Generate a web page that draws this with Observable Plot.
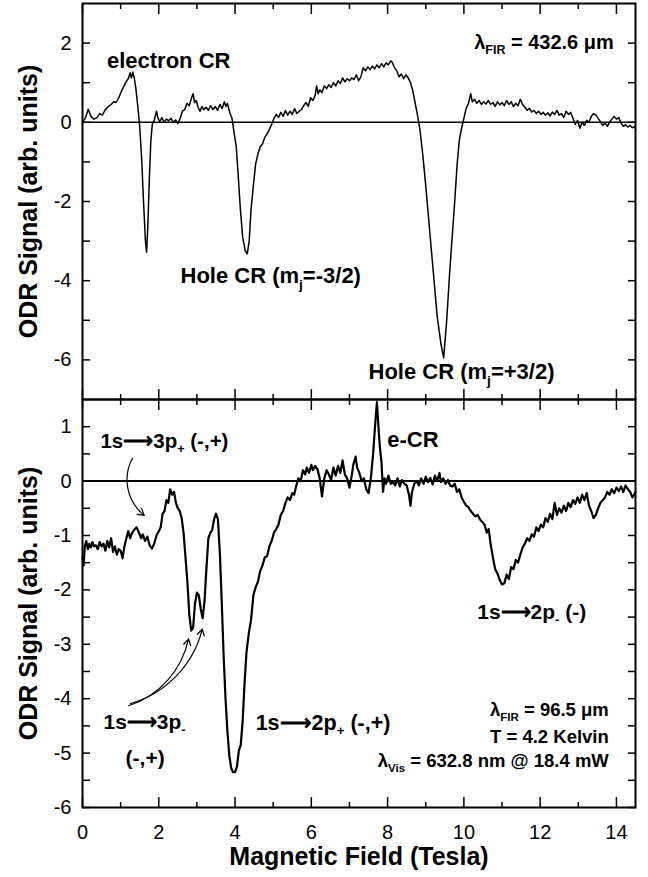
<!DOCTYPE html>
<html>
<head>
<meta charset="utf-8">
<script src="https://cdn.jsdelivr.net/npm/d3@7"></script>
<script src="https://cdn.jsdelivr.net/npm/@observablehq/plot@0.6"></script>
<style>
html,body{margin:0;padding:0;background:#fff;}
#chart{position:relative;width:648px;height:877px;overflow:hidden;background:#fff;}
#chart svg{position:absolute;left:0;overflow:visible;background:transparent;}
</style>
</head>
<body>
<div id="chart"></div>
<script>
// ---------- data ----------
const topField = [0.00,0.08,0.15,0.22,0.30,0.38,0.45,0.52,0.60,0.68,0.75,0.82,0.88,0.95,1.02,1.08,1.14,1.20,1.25,1.28,1.32,1.36,1.40,1.45,1.50,1.55,1.60,1.65,1.68,1.71,1.75,1.79,1.83,1.88,1.94,1.98,2.03,2.08,2.14,2.20,2.26,2.32,2.38,2.44,2.50,2.56,2.62,2.68,2.74,2.80,2.86,2.90,2.94,2.98,3.03,3.08,3.13,3.18,3.24,3.30,3.36,3.42,3.48,3.54,3.60,3.66,3.72,3.76,3.80,3.86,3.92,3.98,4.03,4.08,4.14,4.20,4.27,4.32,4.37,4.42,4.48,4.54,4.60,4.66,4.72,4.78,4.84,4.90,4.96,5.02,5.08,5.14,5.20,5.26,5.32,5.38,5.44,5.50,5.56,5.62,5.68,5.74,5.80,5.86,5.92,5.98,6.04,6.10,6.14,6.18,6.22,6.28,6.34,6.40,6.46,6.52,6.58,6.64,6.70,6.76,6.82,6.88,6.94,7.00,7.06,7.12,7.18,7.24,7.30,7.36,7.42,7.48,7.54,7.60,7.66,7.72,7.78,7.84,7.90,7.96,8.02,8.08,8.12,8.18,8.24,8.30,8.36,8.42,8.48,8.54,8.60,8.66,8.72,8.78,8.85,8.92,9.00,9.10,9.20,9.30,9.40,9.47,9.55,9.62,9.70,9.76,9.82,9.88,9.94,10.00,10.06,10.12,10.18,10.22,10.28,10.34,10.40,10.46,10.52,10.58,10.64,10.70,10.76,10.82,10.88,10.94,11.00,11.06,11.12,11.18,11.24,11.30,11.36,11.42,11.48,11.54,11.60,11.66,11.72,11.78,11.84,11.90,11.96,12.02,12.08,12.14,12.20,12.26,12.32,12.38,12.44,12.50,12.56,12.62,12.68,12.74,12.80,12.86,12.92,12.98,13.04,13.10,13.16,13.22,13.28,13.34,13.40,13.46,13.52,13.58,13.64,13.70,13.76,13.82,13.88,13.94,14.00,14.06,14.12,14.18,14.24,14.30,14.36,14.42,14.50];
const topSignal = [0.00,0.12,0.33,0.15,0.08,0.12,0.22,0.18,0.32,0.40,0.45,0.52,0.50,0.62,0.78,0.90,1.02,1.10,1.25,1.12,1.27,1.10,0.85,0.40,-0.10,-0.90,-2.00,-3.00,-3.28,-2.70,-1.50,-0.50,-0.05,0.05,0.28,0.10,0.02,0.12,0.00,0.08,0.04,0.10,0.00,0.06,-0.03,0.10,0.28,0.32,0.48,0.42,0.62,0.72,0.50,0.55,0.38,0.28,0.40,0.32,0.38,0.30,0.42,0.32,0.40,0.30,0.45,0.35,0.52,0.40,0.48,0.25,0.10,-0.30,-0.60,-1.30,-2.20,-2.90,-3.25,-3.32,-3.00,-2.20,-1.60,-1.05,-0.80,-0.62,-0.55,-0.38,-0.30,-0.18,-0.05,0.10,0.20,0.12,0.25,0.15,0.30,0.18,0.28,0.20,0.35,0.22,0.28,0.32,0.42,0.50,0.40,0.62,0.55,0.68,0.92,0.72,0.82,0.75,0.92,0.85,0.95,0.88,1.00,0.92,1.05,0.98,1.12,1.02,1.10,1.05,1.12,1.08,1.20,1.05,1.15,1.38,1.30,1.40,1.33,1.42,1.35,1.45,1.38,1.48,1.40,1.50,1.45,1.55,1.52,1.38,1.30,1.15,1.22,1.10,1.20,1.12,1.00,0.80,0.50,0.20,-0.20,-0.80,-1.60,-2.70,-3.80,-4.90,-5.60,-5.95,-5.00,-3.90,-2.80,-2.00,-1.10,-0.45,-0.15,0.10,0.35,0.48,0.72,0.52,0.58,0.48,0.55,0.45,0.52,0.46,0.55,0.45,0.50,0.40,0.52,0.44,0.50,0.42,0.55,0.45,0.52,0.40,0.48,0.42,0.58,0.45,0.38,0.30,0.35,0.26,0.30,0.22,0.28,0.20,0.25,0.18,0.24,0.16,0.26,0.20,0.30,0.18,0.22,0.12,0.28,0.20,0.25,0.10,-0.05,0.05,-0.15,0.00,-0.08,0.05,0.00,0.15,0.22,0.18,0.10,0.02,-0.08,-0.02,-0.10,0.00,0.08,0.15,0.08,0.12,-0.02,-0.10,-0.06,-0.12,-0.08,-0.14,-0.10];

const bottomField = [0.00,0.03,0.06,0.10,0.14,0.18,0.22,0.26,0.30,0.35,0.40,0.45,0.50,0.55,0.60,0.65,0.70,0.75,0.80,0.85,0.90,0.95,1.00,1.05,1.10,1.15,1.20,1.25,1.30,1.35,1.42,1.48,1.54,1.58,1.64,1.70,1.76,1.82,1.88,1.94,2.00,2.05,2.10,2.15,2.20,2.25,2.30,2.35,2.40,2.45,2.50,2.55,2.60,2.65,2.70,2.75,2.80,2.85,2.90,2.95,3.00,3.05,3.10,3.15,3.20,3.25,3.30,3.35,3.40,3.45,3.50,3.55,3.60,3.65,3.70,3.75,3.80,3.85,3.90,3.95,4.00,4.05,4.10,4.15,4.20,4.25,4.30,4.36,4.42,4.48,4.54,4.60,4.66,4.72,4.78,4.84,4.90,4.96,5.02,5.08,5.14,5.20,5.26,5.32,5.38,5.44,5.50,5.55,5.60,5.66,5.72,5.78,5.84,5.88,5.94,6.00,6.04,6.10,6.16,6.22,6.28,6.34,6.40,6.46,6.52,6.58,6.64,6.70,6.76,6.82,6.88,6.94,7.00,7.06,7.10,7.16,7.20,7.26,7.32,7.38,7.44,7.50,7.56,7.62,7.68,7.72,7.76,7.80,7.84,7.88,7.92,7.96,8.02,8.08,8.14,8.20,8.26,8.32,8.38,8.44,8.50,8.56,8.60,8.64,8.70,8.76,8.82,8.88,8.94,9.00,9.06,9.12,9.18,9.24,9.30,9.36,9.40,9.46,9.52,9.58,9.64,9.70,9.76,9.82,9.88,9.94,10.00,10.06,10.12,10.18,10.24,10.30,10.36,10.42,10.48,10.54,10.60,10.65,10.70,10.76,10.82,10.88,10.94,11.00,11.06,11.12,11.18,11.24,11.30,11.36,11.42,11.48,11.54,11.60,11.66,11.72,11.78,11.84,11.90,11.96,12.02,12.08,12.14,12.20,12.26,12.32,12.38,12.44,12.50,12.56,12.62,12.68,12.74,12.80,12.86,12.92,12.98,13.04,13.10,13.16,13.22,13.28,13.34,13.40,13.46,13.52,13.58,13.64,13.70,13.76,13.82,13.88,13.94,14.00,14.06,14.12,14.18,14.24,14.30,14.36,14.42,14.50];
const bottomSignal = [-1.40,-1.55,-1.20,-1.10,-1.25,-1.15,-1.22,-1.12,-1.20,-1.18,-1.25,-1.12,-1.20,-1.15,-1.28,-1.10,-1.22,-1.05,-1.30,-1.20,-1.35,-1.25,-1.28,-1.42,-1.20,-1.05,-0.92,-1.05,-0.95,-0.90,-0.85,-0.95,-1.05,-0.98,-1.10,-1.02,-1.18,-1.24,-1.15,-1.00,-0.92,-0.85,-0.60,-0.55,-0.35,-0.40,-0.15,-0.25,-0.20,-0.40,-0.50,-0.55,-0.68,-0.95,-1.40,-1.85,-2.45,-2.75,-2.70,-2.25,-2.05,-2.10,-2.35,-2.52,-2.20,-1.60,-1.05,-0.95,-0.90,-0.70,-0.60,-0.70,-1.30,-2.20,-3.20,-4.00,-4.60,-5.05,-5.28,-5.35,-5.35,-5.25,-4.95,-4.85,-4.40,-3.70,-3.15,-2.80,-2.55,-2.10,-1.95,-1.85,-1.65,-1.55,-1.40,-1.38,-1.20,-1.10,-0.95,-0.88,-0.80,-0.62,-0.55,-0.40,-0.30,-0.35,-0.22,-0.25,-0.10,0.05,0.00,0.20,0.12,0.25,0.15,0.30,0.20,0.28,0.22,0.05,-0.28,0.05,0.20,0.12,0.02,0.25,0.10,0.28,0.15,0.38,0.12,0.05,-0.12,0.10,0.30,0.45,0.25,0.15,0.00,0.05,-0.15,-0.22,0.05,0.50,1.10,1.45,1.00,0.60,0.35,-0.20,0.05,-0.05,0.10,-0.05,-0.02,-0.08,0.05,-0.10,0.02,-0.05,-0.08,-0.25,-0.45,-0.20,-0.05,0.00,-0.08,0.05,-0.05,0.08,-0.02,0.06,-0.06,0.10,0.00,0.15,-0.02,0.05,-0.05,0.02,-0.08,-0.10,-0.05,-0.20,-0.15,-0.30,-0.38,-0.45,-0.48,-0.55,-0.60,-0.65,-0.62,-0.70,-0.75,-0.80,-0.95,-0.88,-1.15,-1.40,-1.62,-1.70,-1.82,-1.90,-1.88,-1.72,-1.80,-1.58,-1.62,-1.45,-1.50,-1.35,-1.22,-1.15,-1.05,-1.10,-0.98,-1.02,-0.85,-0.92,-0.80,-0.85,-0.68,-0.75,-0.60,-0.70,-0.40,-0.62,-0.50,-0.58,-0.45,-0.55,-0.40,-0.48,-0.35,-0.42,-0.30,-0.40,-0.25,-0.35,-0.22,-0.45,-0.55,-0.68,-0.62,-0.50,-0.40,-0.35,-0.30,-0.20,-0.25,-0.15,-0.22,-0.12,-0.18,-0.10,-0.20,-0.08,-0.15,-0.20,-0.30,-0.20];

// axes / ticks
const xDomain = [0, 14.5];
const xTickLabels = [0, 2, 4, 6, 8, 10, 12, 14];
const xMinorTicks = [1, 3, 5, 7, 9, 11, 13];
const topYDomain = [-7, 3];
const topYTickMarks = [-6, -5, -4, -3, -2, -1, 0, 1, 2];
const topYTickLabels = [-6, -4, -2, 0, 2];
const bottomYDomain = [-6, 1.5];
const bottomYTickMarks = [-6, -5.5, -5, -4.5, -4, -3.5, -3, -2.5, -2, -1.5, -1, -0.5, 0, 0.5, 1];
const bottomYTickLabels = [-6, -5, -4, -3, -2, -1, 0, 1];
const yTitle = "ODR Signal (arb. units)";
const xTitle = "Magnetic Field (Tesla)";

// annotations (text with _{..} for subscripts)
const topNotes = [
  {text: "electron CR", field: 2.26, signal: 1.56, anchor: "middle", size: 22},
  {text: "λ_{FIR} = 432.6 μm", field: 13.93, signal: 2.01, anchor: "end", size: 20},
  {text: "Hole CR (m_{j}=-3/2)", field: 2.57, signal: -3.89, anchor: "start", size: 22},
  {text: "Hole CR (m_{j}=+3/2)", field: 7.5, signal: -6.31, anchor: "start", size: 22}
];
const bottomNotes = [
  {text: "1s⟶3p_{+} (-,+)", field: 0.47, signal: 0.73, anchor: "start", size: 20.5},
  {text: "e-CR", field: 7.99, signal: 0.75, anchor: "start", size: 22},
  {text: "1s⟶2p_{-} (-)", field: 10.35, signal: -2.42, anchor: "start", size: 21},
  {text: "1s⟶3p_{-}", field: 0.55, signal: -4.44, anchor: "start", size: 21},
  {text: "(-,+)", field: 1.13, signal: -5.1, anchor: "start", size: 21},
  {text: "1s⟶2p_{+} (-,+)", field: 4.54, signal: -4.44, anchor: "start", size: 21.5},
  {text: "λ_{FIR} = 96.5 μm", field: 13.8, signal: -4.21, anchor: "end", size: 18.5},
  {text: "T = 4.2 Kelvin", field: 13.8, signal: -4.70, anchor: "end", size: 18.5},
  {text: "λ_{Vis} = 632.8 nm @ 18.4 mW", field: 13.8, signal: -5.15, anchor: "end", size: 18.5}
];
const upperArrow = [{f1: 1.31, s1: 0.42, f2: 1.62, s2: -0.63}];
const lowerArrows = [
  {f1: 1.21, s1: -4.13, f2: 2.78, s2: -2.90},
  {f1: 1.26, s1: -4.09, f2: 3.14, s2: -2.72}
];

// ---------- drawing ----------
const W = 648, ML = 82, MR = 13;
const FONT = '"Liberation Sans", Arial, Helvetica, sans-serif';
const topRows = topField.map((f, i) => ({field: f, signal: topSignal[i]}));
const bottomRows = bottomField.map((f, i) => ({field: f, signal: bottomSignal[i]}));
const blank = () => "";

function frameAxes(yMarks, yLabels, showXLabels) {
  return [
    Plot.axisY({ticks: yMarks, anchor: "left", tickSize: -8, tickPadding: 19, fontSize: 20,
      tickFormat: d => yLabels.includes(d) ? String(d) : "", label: null, strokeWidth: 1.5}),
    Plot.axisY({ticks: yMarks, anchor: "right", tickSize: -8, tickFormat: blank, label: null, strokeWidth: 1.5}),
    Plot.axisX({ticks: xTickLabels, anchor: "top", tickSize: -10, tickFormat: blank, label: null, strokeWidth: 1.5}),
    Plot.axisX({ticks: xMinorTicks, anchor: "top", tickSize: -5, tickFormat: blank, label: null, strokeWidth: 1.5}),
    Plot.axisX({ticks: xTickLabels, anchor: "bottom", tickSize: -10, tickPadding: 27, fontSize: 20,
      tickFormat: showXLabels ? (d => String(d)) : blank, label: null, strokeWidth: 1.5}),
    Plot.axisX({ticks: xMinorTicks, anchor: "bottom", tickSize: -5, tickFormat: blank, label: null, strokeWidth: 1.5})
  ];
}
function noteMarks(notes) {
  const sizes = [...new Set(notes.map(n => n.size))];
  return ["start", "middle", "end"].flatMap(a =>
    sizes.map(sz => Plot.text(notes.filter(n => n.anchor === a && n.size === sz), {
      x: "field", y: "signal", text: "text", textAnchor: a, fontSize: sz, fontWeight: "bold", fill: "#000"
    })));
}

const topPlot = Plot.plot({
  width: W, height: 400, marginLeft: ML, marginRight: MR, marginTop: 3, marginBottom: 1,
  style: {fontFamily: FONT, background: "transparent", overflow: "visible", color: "#000"},
  x: {domain: xDomain}, y: {domain: topYDomain},
  marks: [
    Plot.ruleY([0], {strokeWidth: 1.6, stroke: "#000"}),
    Plot.line(topRows, {x: "field", y: "signal", stroke: "#000", strokeWidth: 1.5, strokeLinejoin: "round"}),
    ...frameAxes(topYTickMarks, topYTickLabels, false),
    Plot.frame({stroke: "#000", strokeWidth: 2}),
    Plot.text([yTitle], {frameAnchor: "left", textAnchor: "middle", rotate: -90, dx: -54, fontSize: 25, fontWeight: "bold", fill: "#000"}),
    ...noteMarks(topNotes)
  ]
});

const bottomPlot = Plot.plot({
  width: W, height: 479, marginLeft: ML, marginRight: MR, marginTop: 1, marginBottom: 70,
  style: {fontFamily: FONT, background: "transparent", overflow: "visible", color: "#000"},
  x: {domain: xDomain}, y: {domain: bottomYDomain},
  marks: [
    Plot.ruleY([0], {strokeWidth: 2, stroke: "#000"}),
    Plot.line(bottomRows, {x: "field", y: "signal", stroke: "#000", strokeWidth: 2.2, strokeLinejoin: "round"}),
    ...frameAxes(bottomYTickMarks, bottomYTickLabels, true),
    Plot.frame({stroke: "#000", strokeWidth: 2}),
    Plot.text([yTitle], {frameAnchor: "left", textAnchor: "middle", rotate: -90, dx: -54, fontSize: 25, fontWeight: "bold", fill: "#000"}),
    Plot.text([xTitle], {frameAnchor: "bottom", textAnchor: "middle", lineAnchor: "middle", dy: 49, fontSize: 25, fontWeight: "bold", fill: "#000"}),
    ...noteMarks(bottomNotes),
    Plot.arrow(upperArrow, {x1: "f1", y1: "s1", x2: "f2", y2: "s2", bend: -40, stroke: "#000", strokeWidth: 1.2, headLength: 9}),
    Plot.arrow(lowerArrows, {x1: "f1", y1: "s1", x2: "f2", y2: "s2", bend: -30, stroke: "#000", strokeWidth: 1.2, headLength: 9})
  ]
});

const chart = document.getElementById("chart");
topPlot.style.top = "0px";
bottomPlot.style.top = "398px";
chart.appendChild(topPlot);
chart.appendChild(bottomPlot);

// subscripts: turn "_{..}" into lowered, smaller tspans
function richify(svg) {
  svg.querySelectorAll("text").forEach(t => {
    const s = t.textContent;
    if (!s.includes("_{")) return;
    const fs = parseFloat(getComputedStyle(t).fontSize) || 20;
    const shift = Math.round(fs * 0.25);
    while (t.firstChild) t.removeChild(t.firstChild);
    const parts = s.split(/(_\{[^}]*\})/);
    let lowered = false;
    parts.forEach(p => {
      if (!p) return;
      const ts = document.createElementNS("http://www.w3.org/2000/svg", "tspan");
      if (p.startsWith("_{")) {
        ts.textContent = p.slice(2, -1);
        ts.setAttribute("font-size", (fs * 0.62).toFixed(1));
        ts.setAttribute("dy", shift);
        lowered = true;
      } else {
        ts.textContent = p;
        if (lowered) { ts.setAttribute("dy", -shift); lowered = false; }
      }
      t.appendChild(ts);
    });
  });
}
richify(topPlot);
richify(bottomPlot);
</script>
</body>
</html>
